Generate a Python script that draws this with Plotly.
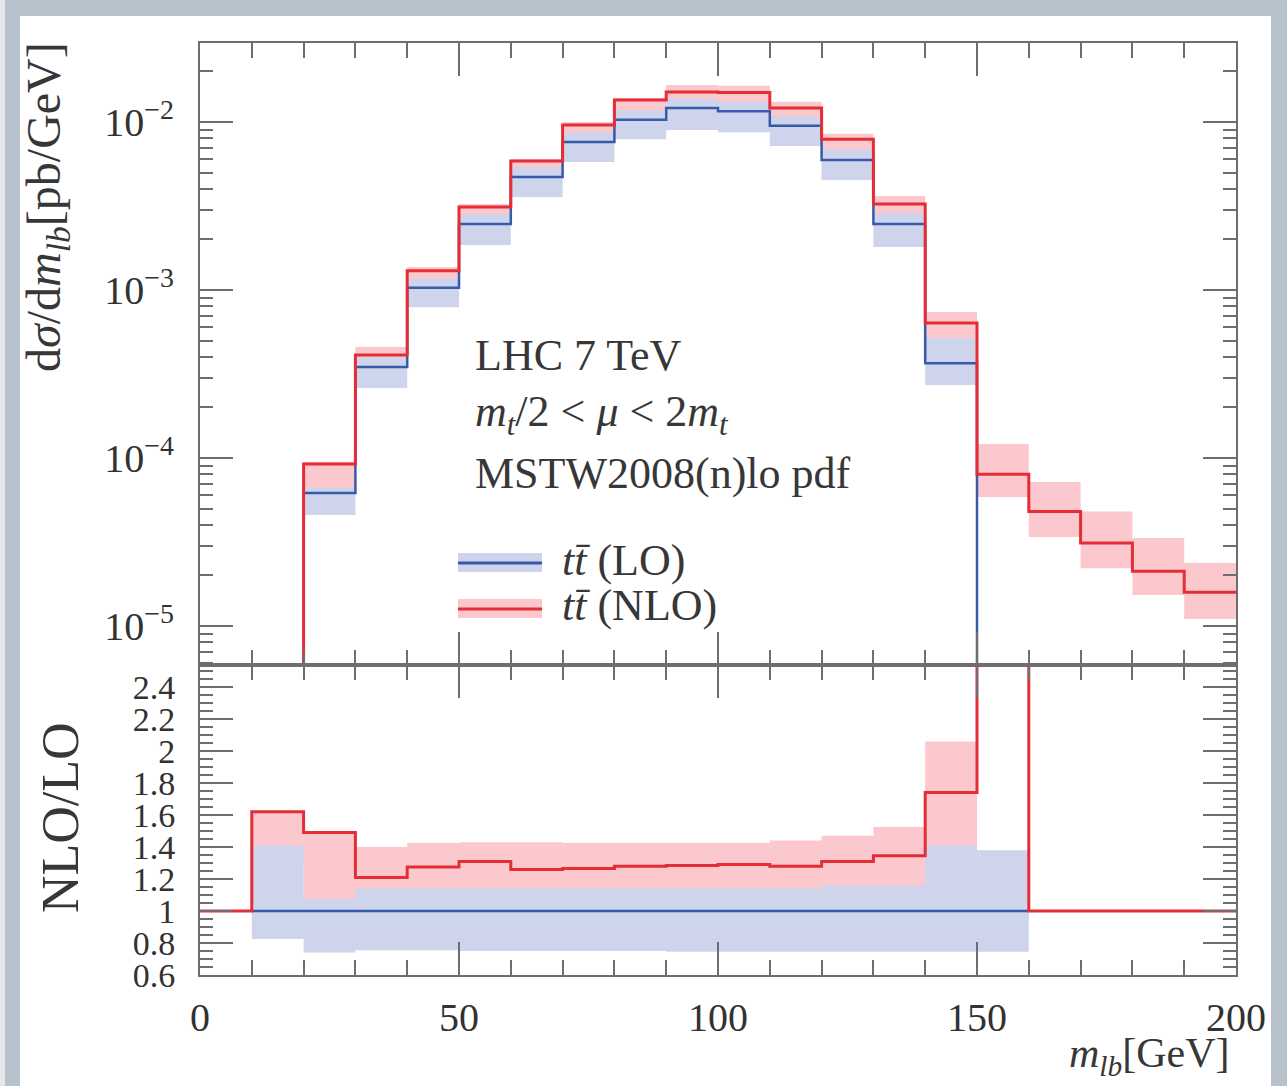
import plotly.graph_objects as go

# ---------------- data ----------------
bin_edges = [0, 10, 20, 30, 40, 50, 60, 70, 80, 90, 100, 110, 120, 130, 140, 150, 160, 170, 180, 190, 200]

# d sigma / d m_lb  [pb/GeV], one value per 10 GeV bin (0 = empty bin)
lo_central = [0, 0, 6.2e-5, 3.48e-4, 1.03e-3, 2.47e-3, 4.71e-3, 7.6e-3, 1.03e-2, 1.21e-2,
              1.16e-2, 9.5e-3, 5.94e-3, 2.47e-3, 3.67e-4, 0, 0, 0, 0, 0]
nlo_central = [0, 0, 9.2e-5, 4.10e-4, 1.30e-3, 3.12e-3, 5.86e-3, 9.6e-3, 1.35e-2, 1.51e-2,
               1.50e-2, 1.21e-2, 7.9e-3, 3.25e-3, 6.37e-4, 8.0e-5, 4.8e-5, 3.12e-5, 2.12e-5, 1.59e-5]

# scale-variation bands (upper panel)
lo_band_edges = [20, 30, 40, 50, 60, 70, 80, 90, 100, 110, 120, 130, 140, 150]
lo_band_low = [4.58e-5, 2.61e-4, 7.9e-4, 1.85e-3, 3.58e-3, 5.78e-3, 7.9e-3, 8.96e-3, 8.7e-3, 7.2e-3, 4.52e-3, 1.80e-3, 2.72e-4]
lo_band_high = [6.65e-5, 3.97e-4, 1.17e-3, 2.82e-3, 5.37e-3, 8.66e-3, 1.17e-2, 1.38e-2, 1.32e-2, 1.08e-2, 6.89e-3, 2.87e-3, 5.18e-4]

nlo_band_edges = [20, 30, 40, 50, 60, 70, 80, 90, 100, 110, 120, 130, 140, 150, 160, 170, 180, 190, 200]
nlo_band_low = [6.0e-5, 3.5e-4, 1.1e-3, 2.7e-3, 5.1e-3, 8.3e-3, 1.15e-2, 1.3e-2, 1.28e-2, 1.04e-2, 6.6e-3, 2.75e-3, 4.9e-4,
                5.86e-5, 3.39e-5, 2.21e-5, 1.53e-5, 1.10e-5]
nlo_band_high = [9.5e-5, 4.58e-4, 1.37e-3, 3.25e-3, 6.02e-3, 1.0e-2, 1.39e-2, 1.66e-2, 1.64e-2, 1.32e-2, 8.5e-3, 3.63e-3, 7.4e-4,
                 1.21e-4, 7.2e-5, 4.8e-5, 3.34e-5, 2.37e-5]

# ratio panel NLO/LO
ratio_nlo = [1.0, 1.62, 1.49, 1.21, 1.275, 1.31, 1.26, 1.265, 1.28, 1.285, 1.29, 1.28, 1.31, 1.345, 1.74,
             50.0, 1.0, 1.0, 1.0, 1.0]
ratio_lo_edges = [10, 20, 30, 40, 50, 60, 70, 80, 90, 100, 110, 120, 130, 140, 150, 160]
ratio_lo = [1.0, 1.0, 1.0, 1.0, 1.0, 1.0, 1.0, 1.0, 1.0, 1.0, 1.0, 1.0, 1.0, 1.0, 1.0]
ratio_lo_band_low = [0.825, 0.74, 0.755, 0.755, 0.75, 0.75, 0.75, 0.75, 0.745, 0.745, 0.745, 0.745, 0.745, 0.745, 0.745]
ratio_lo_band_high = [1.41, 1.075, 1.14, 1.14, 1.14, 1.14, 1.14, 1.14, 1.14, 1.14, 1.14, 1.16, 1.16, 1.41, 1.38]
ratio_nlo_edges = [10, 20, 30, 40, 50, 60, 70, 80, 90, 100, 110, 120, 130, 140, 150]
ratio_nlo_band_low = [1.3, 1.0, 1.0, 1.05, 1.05, 1.05, 1.05, 1.05, 1.05, 1.05, 1.05, 1.05, 1.1, 1.2]
ratio_nlo_band_high = [1.62, 1.49, 1.40, 1.425, 1.43, 1.43, 1.425, 1.425, 1.425, 1.425, 1.44, 1.47, 1.525, 2.06]

upper_ticks = [1e-5, 1e-4, 1e-3, 1e-2]
upper_ticktext = ["10<sup>−5</sup>", "10<sup>−4</sup>", "10<sup>−3</sup>", "10<sup>−2</sup>"]
ratio_ticks = [0.6, 0.8, 1.0, 1.2, 1.4, 1.6, 1.8, 2.0, 2.2, 2.4]
ratio_ticktext = ["0.6", "0.8", "1", "1.2", "1.4", "1.6", "1.8", "2", "2.2", "2.4"]
x_ticks = [0, 50, 100, 150, 200]

# ---------------- style ----------------
RED = "rgb(228,45,55)"
BLUE = "rgb(55,90,170)"
PINK = "rgb(251,201,205)"
LAV = "rgb(206,212,235)"
AX = "rgb(110,110,110)"
BG = "rgb(182,193,203)"
FONT = "Liberation Serif"
FLOOR = 1e-12


def steps(edges, vals, floor=None):
    y = list(vals) + [vals[-1]]
    if floor is not None:
        y = [v if v > 0 else floor for v in y]
    return list(edges), y


fig = go.Figure()


def band(edges, low, high, color, xa, ya):
    xl, yl = steps(edges, low)
    xh, yh = steps(edges, high)
    fig.add_trace(go.Scatter(x=xl, y=yl, mode="lines", line=dict(width=0, shape="hv"),
                             xaxis=xa, yaxis=ya, showlegend=False, hoverinfo="skip"))
    fig.add_trace(go.Scatter(x=xh, y=yh, mode="lines", line=dict(width=0, shape="hv"),
                             fill="tonexty", fillcolor=color, xaxis=xa, yaxis=ya,
                             showlegend=False, hoverinfo="skip"))


# upper panel
band(nlo_band_edges, nlo_band_low, nlo_band_high, PINK, "x", "y")
band(lo_band_edges, lo_band_low, lo_band_high, LAV, "x", "y")
xs, ys = steps(bin_edges, lo_central, FLOOR)
fig.add_trace(go.Scatter(x=xs, y=ys, mode="lines", line=dict(color=BLUE, width=2.5, shape="hv"),
                         xaxis="x", yaxis="y", showlegend=False))
xs, ys = steps(bin_edges, nlo_central, FLOOR)
fig.add_trace(go.Scatter(x=xs, y=ys, mode="lines", line=dict(color=RED, width=3, shape="hv"),
                         xaxis="x", yaxis="y", showlegend=False))

# ratio panel
band(ratio_nlo_edges, ratio_nlo_band_low, ratio_nlo_band_high, PINK, "x2", "y2")
band(ratio_lo_edges, ratio_lo_band_low, ratio_lo_band_high, LAV, "x2", "y2")
xs, ys = steps(ratio_lo_edges, ratio_lo)
fig.add_trace(go.Scatter(x=xs, y=ys, mode="lines", line=dict(color=BLUE, width=2.5, shape="hv"),
                         xaxis="x2", yaxis="y2", showlegend=False))
xs, ys = steps(bin_edges, ratio_nlo)
fig.add_trace(go.Scatter(x=xs, y=ys, mode="lines", line=dict(color=RED, width=3, shape="hv"),
                         xaxis="x2", yaxis="y2", showlegend=False))

W, H = 1287, 1086
L, R, T, B = 200, 51, 43, 111
split = (975 - 665) / (975 - 43)


def px(p):
    return (p - L) / (W - L - R)


def py(p):
    return (975 - p) / (975 - 43)


common_x = dict(range=[0, 200], showline=True, linecolor=AX, linewidth=2, mirror="allticks",
                ticks="inside", ticklen=33, tickwidth=2, tickcolor=AX, tickvals=x_ticks,
                minor=dict(dtick=10, ticks="inside", ticklen=15, tickwidth=2, tickcolor=AX, showgrid=False),
                showgrid=False, zeroline=False)

fig.update_layout(
    width=W, height=H,
    margin=dict(l=L, r=R, t=T, b=B, autoexpand=False),
    paper_bgcolor=BG,
    plot_bgcolor="white",
    font=dict(family=FONT, size=40, color="rgb(50,50,50)"),
    xaxis=dict(domain=[0, 1], anchor="y", showticklabels=False, **common_x),
    xaxis2=dict(domain=[0, 1], anchor="y2", matches="x", showticklabels=True,
                ticktext=[str(v) for v in x_ticks], ticklabelstandoff=6, **common_x),
    yaxis=dict(domain=[split, 1], anchor="x", type="log", range=[-5.232, -1.530],
               tickvals=upper_ticks, ticktext=upper_ticktext, showline=True, linecolor=AX, linewidth=2,
               mirror="allticks", ticks="inside", ticklen=33, tickwidth=2, tickcolor=AX,
               minor=dict(dtick="D1", ticks="inside", ticklen=13, tickwidth=2, tickcolor=AX, showgrid=False),
               showgrid=False, zeroline=False, ticklabelstandoff=16),
    yaxis2=dict(domain=[0, split], anchor="x2", range=[0.6, 2.5375],
                tickvals=ratio_ticks, ticktext=ratio_ticktext, showline=True, linecolor=AX, linewidth=2,
                mirror="allticks", ticks="inside", ticklen=33, tickwidth=2, tickcolor=AX,
                tickfont=dict(size=34),
                minor=dict(dtick=0.05, ticks="inside", ticklen=13, tickwidth=2, tickcolor=AX, showgrid=False),
                showgrid=False, zeroline=False, ticklabelstandoff=16),
)

# white slide panel and left light strip
fig.add_shape(type="rect", xref="paper", yref="paper", x0=px(20), x1=px(1271), y0=py(1100), y1=py(16),
              fillcolor="white", line=dict(width=0), layer="below")
fig.add_shape(type="rect", xref="paper", yref="paper", x0=px(0), x1=px(5), y0=py(1100), y1=py(0),
              fillcolor="rgb(228,232,236)", line=dict(width=0), layer="below")

# legend samples
fig.add_shape(type="rect", xref="paper", yref="paper", x0=px(458), x1=px(542), y0=py(572), y1=py(553),
              fillcolor=LAV, line=dict(width=0))
fig.add_shape(type="line", xref="paper", yref="paper", x0=px(458), x1=px(542), y0=py(563), y1=py(563),
              line=dict(color=BLUE, width=3))
fig.add_shape(type="rect", xref="paper", yref="paper", x0=px(458), x1=px(542), y0=py(618), y1=py(599),
              fillcolor=PINK, line=dict(width=0))
fig.add_shape(type="line", xref="paper", yref="paper", x0=px(458), x1=px(542), y0=py(609), y1=py(609),
              line=dict(color=RED, width=3))

TXT = "rgb(55,55,55)"
ann = [
    ("LHC 7 TeV", 473, 356),
    ("<i>m<sub>t</sub></i>/2 &lt; <i>μ</i> &lt; 2<i>m<sub>t</sub></i>", 473, 414),
    ("MSTW2008(n)lo pdf", 473, 474),
    ("<i>tt̄</i> (LO)", 560, 560),
    ("<i>tt̄</i> (NLO)", 560, 605),
]
for text, x, y in ann:
    fig.add_annotation(text=text, xref="paper", yref="paper", x=px(x), y=py(y), xanchor="left",
                       yanchor="middle", showarrow=False, font=dict(family=FONT, size=44, color=TXT))

fig.add_annotation(text="d<i>σ</i>/d<i>m<sub>lb</sub></i>[pb/GeV]", xref="paper", yref="paper",
                   x=px(47), y=py(207), textangle=-90, showarrow=False, xanchor="center", yanchor="middle",
                   font=dict(family=FONT, size=48, color=TXT))
fig.add_annotation(text="NLO/LO", xref="paper", yref="paper",
                   x=px(60), y=py(818), textangle=-90, showarrow=False, xanchor="center", yanchor="middle",
                   font=dict(family=FONT, size=52, color=TXT))
fig.add_annotation(text="<i>m<sub>lb</sub></i>[GeV]", xref="paper", yref="paper",
                   x=px(1232), y=py(1056), showarrow=False, xanchor="right", yanchor="middle",
                   font=dict(family=FONT, size=42, color=TXT))

fig.write_html("out.html", config={"displayModeBar": False},
               post_script="document.body.style.margin='0px';document.body.style.overflow='hidden';"
                           "document.body.style.background='" + BG + "';")
